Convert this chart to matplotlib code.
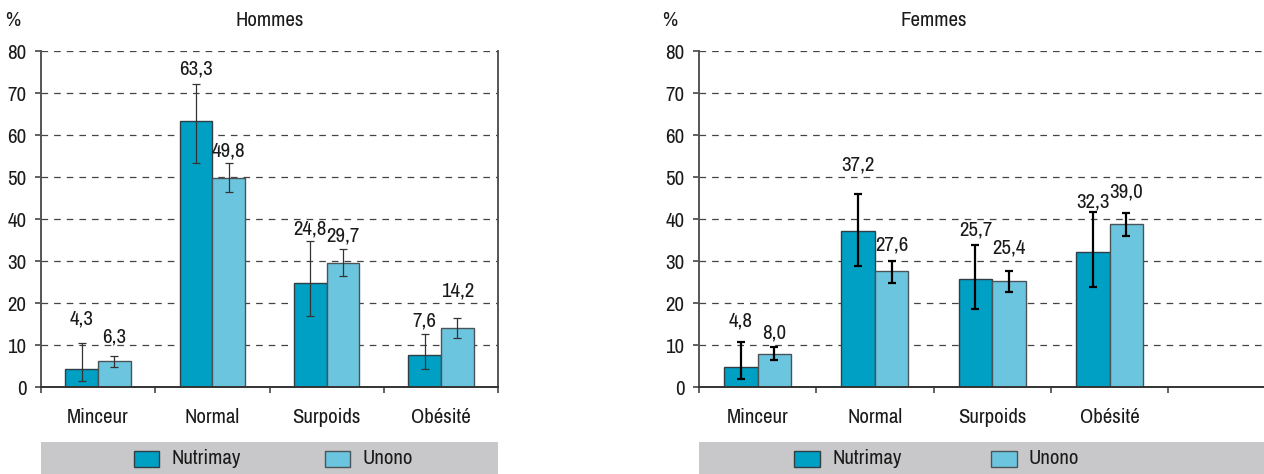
import numpy as np
import matplotlib
matplotlib.use("Agg")
import matplotlib.pyplot as plt
from matplotlib.patches import Rectangle
from matplotlib.transforms import blended_transform_factory

plt.rcParams["font.family"] = ["Archivo Narrow", "Roboto Condensed", "Liberation Sans", "DejaVu Sans"]

# %% data
categories = ["Minceur", "Normal", "Surpoids", "Obésité"]
series = ["Nutrimay", "Unono"]
panels = ["Hommes", "Femmes"]

hommes_nutrimay = [4.3, 63.3, 24.8, 7.6]
hommes_nutrimay_lo = [1.4, 53.4, 17.0, 4.4]
hommes_nutrimay_hi = [10.6, 72.3, 34.8, 12.8]
hommes_unono = [6.3, 49.8, 29.7, 14.2]
hommes_unono_lo = [4.9, 46.5, 26.6, 11.7]
hommes_unono_hi = [7.5, 53.4, 33.0, 16.6]

femmes_nutrimay = [4.8, 37.2, 25.7, 32.3]
femmes_nutrimay_lo = [2.0, 28.8, 18.6, 24.0]
femmes_nutrimay_hi = [10.9, 46.0, 34.0, 41.7]
femmes_unono = [8.0, 27.6, 25.4, 39.0]
femmes_unono_lo = [6.4, 24.8, 22.8, 36.0]
femmes_unono_hi = [9.6, 30.1, 27.7, 41.5]

yticks = [0, 10, 20, 30, 40, 50, 60, 70, 80]

# %% layout / style
# lift (points) of each value label above its error bar, as placed in the original
hommes_lift = [[10.5, 3.5, 2, 2], [7, 2, 2, 12.5]]
femmes_lift = [[8, 14, 3.5, 0.5], [3, 4.5, 9.5, 8.5]]

colors = ["#00a0c4", "#6cc5de"]
edges = ["#2f3f45", "#4a5357"]
axis_grey = "#555555"
text_col = "#1a1a1a"
band_grey = "#c8c8ca"
fs = 15


def fmt(v):
    return f"{v:.1f}".replace(".", ",")


def draw_panel(ax, title, vals, los, his, lifts, err_col, err_lw, right_spine, xmax):
    x = np.arange(len(categories))
    w = 0.286
    for i, (v, lo, hi) in enumerate(zip(vals, los, his)):
        xs = x + (i - 0.5) * w
        v = np.array(v)
        yerr = [v - np.array(lo), np.array(hi) - v]
        ax.bar(xs, v, width=w, color=colors[i], edgecolor=edges[i], linewidth=1.0,
               zorder=3)
        ax.errorbar(xs, v, yerr=yerr, fmt="none", ecolor=err_col,
                    elinewidth=err_lw, capsize=3, capthick=err_lw, zorder=4)
        for xx, vv, hh, lf in zip(xs, v, hi, lifts[i]):
            ax.annotate(fmt(vv), (xx, hh), xytext=(0, lf), textcoords="offset points",
                        ha="center", va="bottom", fontsize=fs, color=text_col)

    ax.set_xlim(-0.5, xmax)
    ax.set_ylim(0, 80)
    ax.set_yticks(yticks)
    ax.set_yticklabels([str(t) for t in yticks], fontsize=fs, color=text_col)
    ax.set_xticks(x)
    ax.set_xticklabels(categories, fontsize=fs, color=text_col)
    ax.set_xticks(np.arange(-0.5, len(categories) + 0.5, 1.0), minor=True)
    ax.tick_params(axis="x", which="major", length=0, pad=15)
    ax.tick_params(axis="x", which="minor", length=4.5, width=1.3, color=axis_grey)
    ax.tick_params(axis="y", length=4.5, width=1.3, color=axis_grey, pad=6)

    ax.yaxis.grid(True, color="#444444", linewidth=0.9,
                  linestyle=(0, (5.3, 4.8)), zorder=1)
    ax.set_axisbelow(True)
    for s in ["left", "right"]:
        ax.spines[s].set_color(axis_grey)
        ax.spines[s].set_linewidth(1.4)
    ax.spines["bottom"].set_color("#333333")
    ax.spines["bottom"].set_linewidth(1.4)
    ax.spines["top"].set_visible(False)
    ax.spines["right"].set_visible(right_spine)
    ax.spines["bottom"].set_zorder(5)

    # title and unit
    ax.text(1.5, 87.4, title, ha="center", va="center", fontsize=fs,
            color=text_col, clip_on=False)
    ax.text(-0.75, 87.4, "%", ha="center", va="center", fontsize=fs,
            color=text_col, clip_on=False)

    # legend band under the panel
    fig = ax.figure
    tr = blended_transform_factory(ax.transAxes, fig.transFigure)
    fig.patches.append(Rectangle((0, 0), 1, 31.7 / 474, transform=tr,
                                 facecolor=band_grey, edgecolor="none"))
    trd = blended_transform_factory(ax.transData, fig.transFigure)
    for i, (name, px) in enumerate(zip(series, [0.312, 1.987])):
        fig.patches.append(Rectangle((px, 7.5 / 474), 0.22, 16 / 474, transform=trd,
                                     facecolor=colors[i], edgecolor=edges[i],
                                     linewidth=1.0))
        fig.text(px + 0.326, 16 / 474, name, transform=trd, ha="left",
                 va="center", fontsize=fs, color=text_col)


fig = plt.figure(figsize=(12.64, 4.74), dpi=100)
ax1 = fig.add_axes([41 / 1264, 1 - 387.3 / 474, 457 / 1264, 336 / 474])
ax2 = fig.add_axes([699 / 1264, 1 - 387.3 / 474, 565 / 1264, 336 / 474])

draw_panel(ax1, panels[0],
           [hommes_nutrimay, hommes_unono],
           [hommes_nutrimay_lo, hommes_unono_lo],
           [hommes_nutrimay_hi, hommes_unono_hi],
           hommes_lift, "#333333", 0.9, True, 3.5)
draw_panel(ax2, panels[1],
           [femmes_nutrimay, femmes_unono],
           [femmes_nutrimay_lo, femmes_unono_lo],
           [femmes_nutrimay_hi, femmes_unono_hi],
           femmes_lift, "#000000", 1.6, False, -0.5 + 565 / 117.3)

fig.savefig("out.png", dpi=100)
